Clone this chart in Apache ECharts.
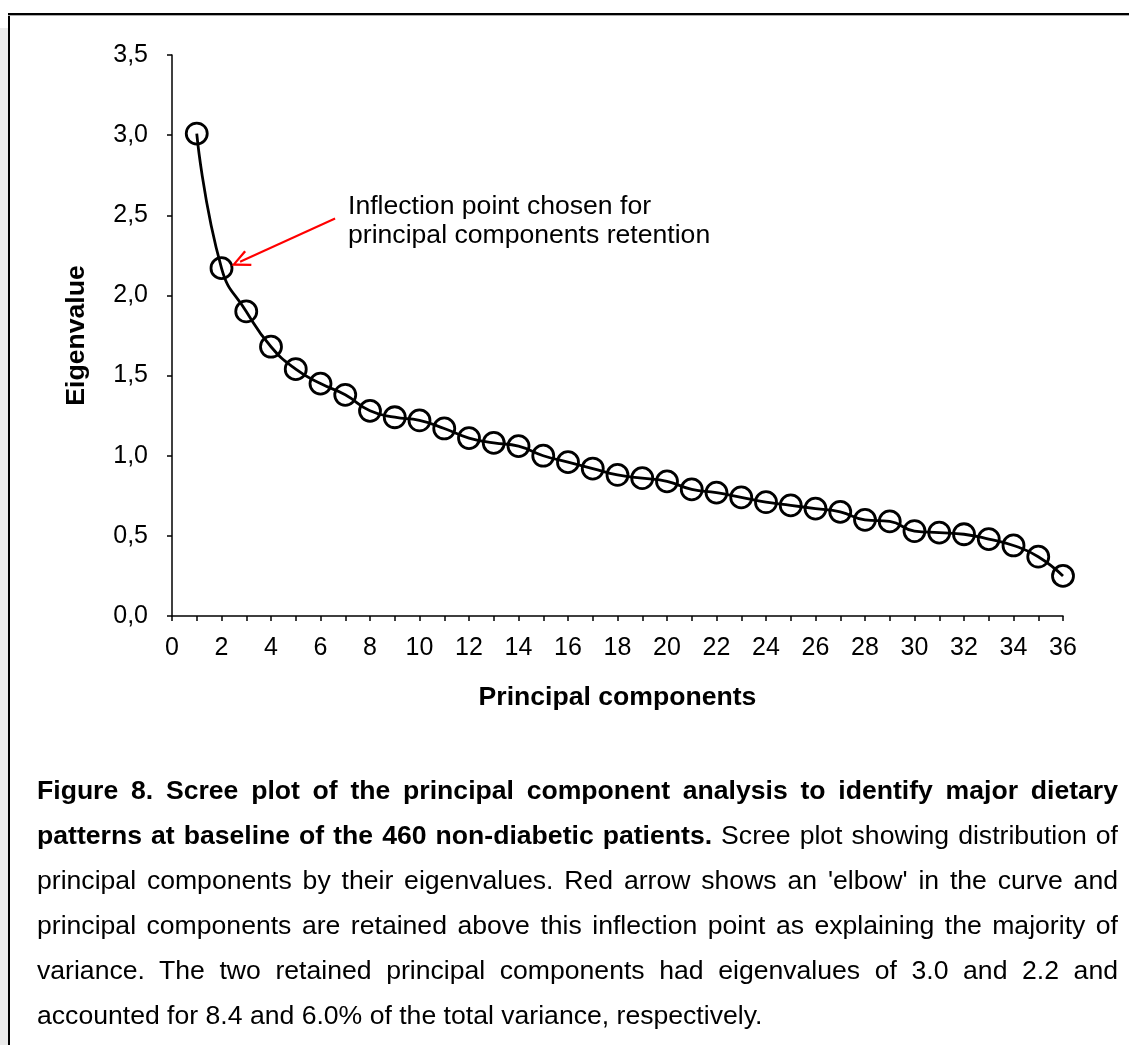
<!DOCTYPE html>
<html>
<head>
<meta charset="utf-8">
<script src="https://cdn.jsdelivr.net/npm/echarts@6/dist/echarts.min.js"></script>
<style>
  html, body { margin: 0; padding: 0; background: #fff; }
  #page { position: relative; width: 1129px; height: 1045px; overflow: hidden; }
  #chart { position: absolute; left: 0; top: 0; width: 1129px; height: 1045px; }
  .strip { position: absolute; left: 0; top: 28px; width: 8px; height: 1017px; background: #ebebeb; }
  .bl { position: absolute; left: 8px; top: 13px; width: 2px; height: 1032px; background: #000; }
  .bt { position: absolute; left: 8px; top: 13px; width: 1121px; height: 2px; background: #000; border-bottom: 1px solid #aaa; }
  #caption {
    position: absolute; left: 37px; top: 768px; width: 1081px;
    font-family: "Liberation Sans", Arial, sans-serif; font-size: 26.6px; line-height: 45px;
    text-align: justify; color: #000;
  }
</style>
</head>
<body>
<div id="page">
  <div id="chart"></div>
  <div class="strip"></div>
  <div class="bl"></div>
  <div class="bt"></div>
  <div id="caption"><b>Figure 8. Scree plot of the principal component analysis to identify major dietary patterns at baseline of the 460 non-diabetic patients.</b> Scree plot showing distribution of principal components by their eigenvalues. Red arrow shows an 'elbow' in the curve and principal components are retained above this inflection point as explaining the majority of variance. The two retained principal components had eigenvalues of 3.0 and 2.2 and accounted for 8.4 and 6.0% of the total variance, respectively.</div>
</div>
<script>
// scree plot values
var components = [1, 2, 3, 4, 5, 6, 7, 8, 9, 10, 11, 12, 13, 14, 15, 16, 17, 18,
                  19, 20, 21, 22, 23, 24, 25, 26, 27, 28, 29, 30, 31, 32, 33, 34, 35, 36]
var eigenvalues = [3.01, 2.17, 1.90, 1.68, 1.54, 1.45, 1.38, 1.28, 1.24, 1.22, 1.17, 1.11,
                   1.08, 1.06, 1.00, 0.96, 0.92, 0.88, 0.86, 0.84, 0.79, 0.77, 0.74, 0.71,
                   0.69, 0.67, 0.65, 0.60, 0.59, 0.53, 0.52, 0.51, 0.48, 0.44, 0.37, 0.25]
var yTickLabels = ['0,0', '0,5', '1,0', '1,5', '2,0', '2,5', '3,0', '3,5']
// arrow from the note to the 2nd component
var arrowFrom = [6.59, 2.48]
var arrowTo = [2.75, 2.21]

var font = '"Liberation Sans", Arial, sans-serif'
var myChart = echarts.init(document.getElementById('chart'))

var option = {
  animation: false,
  grid: { left: 172, right: 66, top: 55, bottom: 429 },
  xAxis: {
    type: 'value', min: 0, max: 36, interval: 2,
    name: 'Principal components', nameLocation: 'middle', nameGap: 68,
    nameTextStyle: { fontFamily: font, fontSize: 26.6, fontWeight: 'bold', color: '#000' },
    axisLine: { lineStyle: { color: '#000', width: 1.5 } },
    axisTick: { length: 5, lineStyle: { color: '#000', width: 1.5 } },
    minorTick: { show: true, splitNumber: 2, length: 5, lineStyle: { color: '#000', width: 1.5 } },
    axisLabel: { fontFamily: font, fontSize: 25, color: '#000', margin: 20 },
    splitLine: { show: false }
  },
  yAxis: {
    type: 'value', min: 0, max: 3.5, interval: 0.5,
    name: 'Eigenvalue', nameLocation: 'middle', nameGap: 82,
    nameTextStyle: { fontFamily: font, fontSize: 26.6, fontWeight: 'bold', color: '#000' },
    axisLine: { show: true, lineStyle: { color: '#000', width: 1.5 } },
    axisTick: { show: true, length: 5, lineStyle: { color: '#000', width: 1.5 } },
    axisLabel: {
      fontFamily: font, fontSize: 25, color: '#000', margin: 24,
      formatter: function (v) { return yTickLabels[Math.round(v / 0.5)] }
    },
    splitLine: { show: false }
  },
  series: [{
    type: 'line',
    data: components.map(function (c, i) { return [c, eigenvalues[i]] }),
    smooth: 0.5,
    symbol: 'circle', symbolSize: 21,
    itemStyle: { color: 'rgba(0,0,0,0)', borderColor: '#000', borderWidth: 2.8 },
    lineStyle: { color: '#000', width: 2.8 },
    z: 3,
    markLine: {
      silent: true,
      symbol: ['none', 'path://M5,0 L10,12 L8.8,12.7 L5,3.4 L1.2,12.7 L0,12 Z'],
      symbolSize: [17, 19],
      label: { show: false },
      lineStyle: { color: '#ff0000', width: 2, type: 'solid' },
      itemStyle: { color: '#ff0000' },
      data: [[{ coord: arrowFrom }, { coord: arrowTo }]]
    }
  }],
  graphic: [{
    type: 'text', left: 348, top: 192,
    style: {
      text: 'Inflection point chosen for\nprincipal components retention',
      fontFamily: font, fontSize: 26.6, lineHeight: 29, fill: '#000'
    }
  }]
}

myChart.setOption(option)
</script>
</body>
</html>
